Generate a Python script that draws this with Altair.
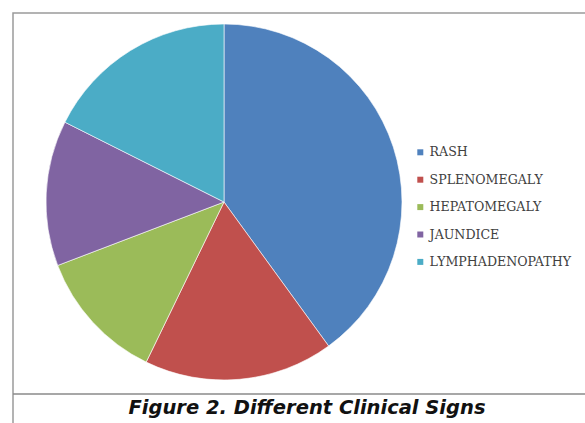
import altair as alt
import pandas as pd

signs = ["RASH", "SPLENOMEGALY", "HEPATOMEGALY", "JAUNDICE", "LYMPHADENOPATHY"]
values = [40.0, 17.2, 12.0, 13.2, 17.6]
colors = ["#4F81BD", "#C0504D", "#9BBB59", "#8064A2", "#4BACC6"]
caption = "Figure 2. Different Clinical Signs"

df = pd.DataFrame({"sign": signs, "value": values, "idx": list(range(len(signs)))})
one = pd.DataFrame({"t": [caption]})

border = alt.Chart(one).mark_rect(fill="white", stroke="#9a9a9a", strokeWidth=1.5).encode(
    x=alt.value(13), x2=alt.value(620), y=alt.value(13), y2=alt.value(450)
)
sep = alt.Chart(one).mark_rule(stroke="#8a8a8a", strokeWidth=1.5).encode(
    x=alt.value(13), x2=alt.value(620), y=alt.value(394)
)

pie = alt.Chart(df).mark_arc(radius=178, stroke="white", strokeWidth=0.6).encode(
    theta=alt.Theta("value:Q", stack=True),
    order=alt.Order("idx:Q"),
    color=alt.Color(
        "sign:N",
        scale=alt.Scale(domain=signs, range=colors),
        legend=alt.Legend(
            title=None,
            orient="none",
            legendX=414,
            legendY=146,
            labelFont="DejaVu Serif",
            labelFontSize=12.6,
            labelColor="#404040",
            symbolType="square",
            symbolSize=36,
            symbolStrokeWidth=0,
            rowPadding=14.4,
            labelOffset=3,
        ),
    ),
    x=alt.value(224),
    y=alt.value(202),
)

cap = alt.Chart(one).mark_text(
    font="DejaVu Sans", fontSize=19.5, fontWeight="bold", fontStyle="italic",
    color="#111111", align="center", baseline="middle"
).encode(text="t:N", x=alt.value(307), y=alt.value(408))

chart = alt.layer(border, sep, pie, cap).properties(
    width=585, height=423, padding=0, autosize="none", background="white"
).configure_view(stroke=None)

chart.save("out.html", embed_options={"renderer": "svg", "actions": False})
